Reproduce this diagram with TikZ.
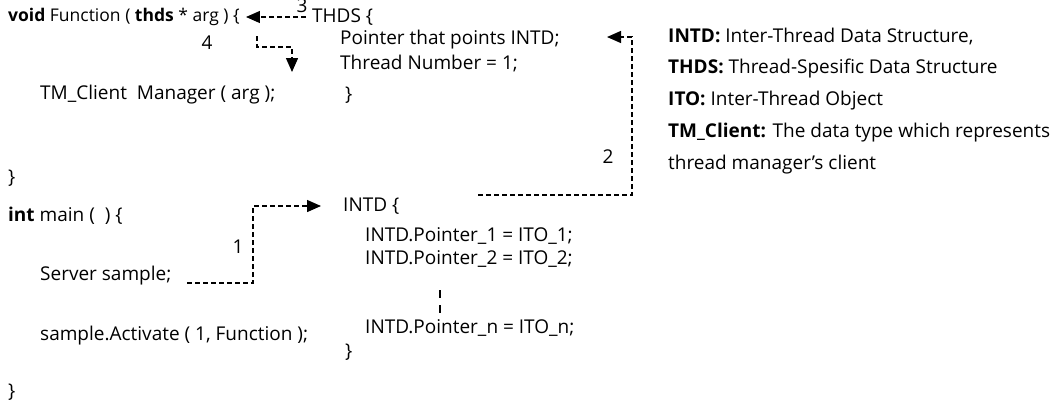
\documentclass[tikz,border=0pt]{standalone}
\usepackage{fontspec}
\setmainfont{Open Sans}
\usetikzlibrary{arrows.meta}

\begin{document}
\begin{tikzpicture}
	[x=1pt,y=-1pt,font=\fontsize{19}{21}\selectfont,
	 txt/.style={anchor=west,inner sep=0pt},
	 num/.style={inner sep=0pt},
	 link/.style={line width=1.4pt,dash pattern=on 5pt off 3pt,-{Triangle[length=14pt,width=12pt]}}]
	\useasboundingbox (0,0) rectangle (1056,402);

	% the thread function
	\node[txt,font=\fontsize{17.5}{21}\selectfont] (fn) at (8,17) {\textbf{void} Function ( \textbf{thds} * arg ) \{};
	\node[txt] (mgr) at (40,95) {TM\_Client\ \ Manager ( arg );};
	\node[txt] (fnend) at (8,178) {\}};

	% main
	\node[txt] (main) at (8,216) {\textbf{int} main (\ \ ) \{};
	\node[txt] (srv) at (40,276) {Server sample;};
	\node[txt] (act) at (40,336) {sample.Activate ( 1, Function );};
	\node[txt] (mainend) at (8,392) {\}};

	% THDS
	\node[txt] (thds) at (312,17) {THDS \{};
	\node[txt] (ptr) at (340,40) {Pointer that points INTD;};
	\node[txt] (tnum) at (340,64) {Thread Number = 1;};
	\node[txt] (thdsend) at (345,95) {\}};

	% INTD
	\node[txt] (intd) at (343,206) {INTD \{};
	\node[txt] (p1) at (365,236) {INTD.Pointer\_1 = ITO\_1;};
	\node[txt] (p2) at (365,259) {INTD.Pointer\_2 = ITO\_2;};
	\node[txt] (pn) at (365,328) {INTD.Pointer\_n = ITO\_n;};
	\node[txt] (intdend) at (345,352) {\}};
	\draw[line width=1.4pt,dash pattern=on 8pt off 7pt] (440,290) -- (440,318);

	% legend
	\node[txt] (lg1) at (668,37) {\textbf{INTD:} Inter-Thread Data Structure,};
	\node[txt] (lg2) at (668,69) {\textbf{THDS:} Thread-Spesific Data Structure};
	\node[txt] (lg3) at (668,101) {\textbf{ITO:} Inter-Thread Object};
	\node[txt] (lg4) at (668,133) {\textbf{TM\_Client:} The data type which represents};
	\node[txt] (lg5) at (668,165) {thread manager's client};

	% numbered links
	\coordinate (s1) at (187,283);
	\coordinate (s2) at (478,195);
	\coordinate (s4) at (257,36);
	\coordinate (t2) at (607,37);
	\draw[link] (s1) -- (253,283) |- ([xshift=-22pt]intd.west);
	\draw[link] (s2) -- (632,195) |- (t2);
	\draw[link] ([xshift=-6pt]thds.west) -- ([xshift=6pt]fn.east);
	\draw[link] (s4) |- (292,47) -- (292,72);

	\node[num] (n1) at (238,247) {1};
	\node[num] (n2) at (608,157) {2};
	\node[num] (n3) at (302,6) {3};
	\node[num] (n4) at (207,43) {4};
\end{tikzpicture}
\end{document}
